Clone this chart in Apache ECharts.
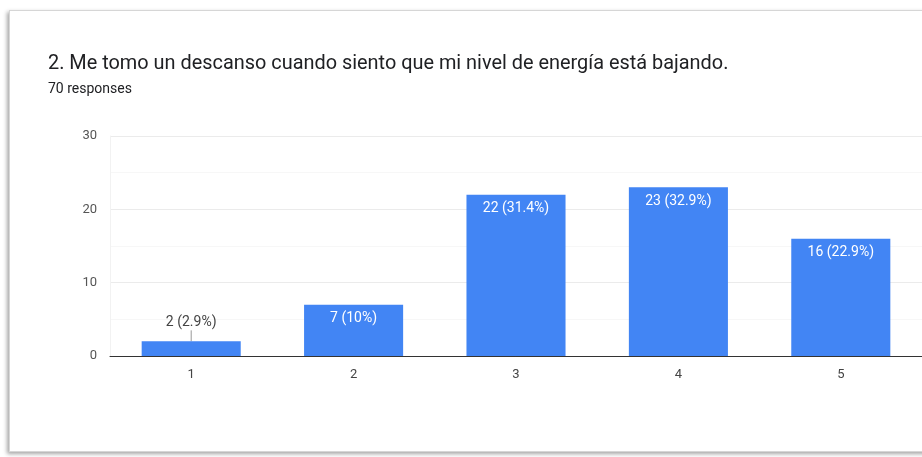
<!DOCTYPE html>
<html>
<head>
<meta charset="utf-8">
<script src="https://cdn.jsdelivr.net/npm/echarts@6/dist/echarts.min.js"></script>
<style>
  html, body { margin: 0; padding: 0; background: #ffffff; }
  #card {
    position: absolute; left: 9px; top: 10px; width: 940px; height: 440px;
    border: 1px solid #d6d6d6; box-shadow: -2px 2px 4px rgba(0,0,0,0.35);
    background: #fff;
  }
  #chart { position: absolute; left: 0; top: 0; width: 922px; height: 457px; }
</style>
</head>
<body>
<div id="card"></div>
<div id="chart"></div>
<script>
// Survey question, answers on a 1–5 scale
const titleText = '2. Me tomo un descanso cuando siento que mi nivel de energía está bajando.';
const subtitleText = '70 responses';
const categories = ['1', '2', '3', '4', '5'];
const counts = [2, 7, 22, 23, 16];
const totalResponses = 70;
const yTicks = [0, 10, 20, 30];

function pct(v) {
  const p = Math.round(v / totalResponses * 1000) / 10;
  return (p % 1 === 0 ? p.toFixed(0) : p.toFixed(1)) + '%';
}

// Short bars get their label above the bar with a small leader line
const outsideThreshold = 4;

const chart = echarts.init(document.getElementById('chart'), null, { renderer: 'canvas' });
chart.setOption({
  animation: false,
  title: [
    {
      text: titleText, left: 48, top: 54, padding: 0,
      textStyle: { fontFamily: 'Roboto', fontSize: 19.9, fontWeight: 'normal', color: '#202124' }
    },
    {
      text: subtitleText, left: 48, top: 82, padding: 0,
      textStyle: { fontFamily: 'Roboto', fontSize: 14, fontWeight: 'normal', color: '#202124' }
    }
  ],
  grid: { left: 110, top: 136, width: 815, bottom: 101 },
  xAxis: {
    type: 'category',
    data: categories,
    axisLine: { lineStyle: { color: '#333', width: 1 } },
    axisTick: { show: false },
    axisLabel: { margin: 12, fontFamily: 'Roboto', fontSize: 13, color: '#444' }
  },
  yAxis: {
    type: 'value',
    min: yTicks[0], max: yTicks[yTicks.length - 1], interval: 10,
    axisLine: { show: true, lineStyle: { color: '#f2f2f2' } },
    axisTick: { show: false },
    axisLabel: { margin: 13, fontFamily: 'Roboto', fontSize: 13, color: '#555' },
    splitLine: { lineStyle: { color: '#ebebeb' } },
    minorTick: { show: false, splitNumber: 2 },
    minorSplitLine: { show: true, lineStyle: { color: '#f7f7f7' } }
  },
  series: [{
    type: 'bar',
    barWidth: '61%',
    itemStyle: { color: '#4285f4' },
    data: counts.map(v => {
      const outside = v < outsideThreshold;
      return {
        value: v,
        label: outside
          ? { position: 'top', distance: 12, color: '#444' }
          : { position: 'insideTop', distance: 7, color: '#ffffff' }
      };
    }),
    label: {
      show: true,
      fontFamily: 'Roboto', fontSize: 14,
      formatter: p => p.value + ' (' + pct(p.value) + ')'
    }
  }]
});

// Draw a short vertical leader from the raised label down to its bar
const g = [];
counts.forEach((v, i) => {
  if (v < outsideThreshold) {
    const top = chart.convertToPixel({ xAxisIndex: 0, yAxisIndex: 0 }, [i, v]);
    g.push({
      type: 'line',
      shape: { x1: top[0], y1: top[1] - 11, x2: top[0], y2: top[1] },
      style: { stroke: '#999', lineWidth: 1 }
    });
  }
});
chart.setOption({ graphic: g });
</script>
</body>
</html>
